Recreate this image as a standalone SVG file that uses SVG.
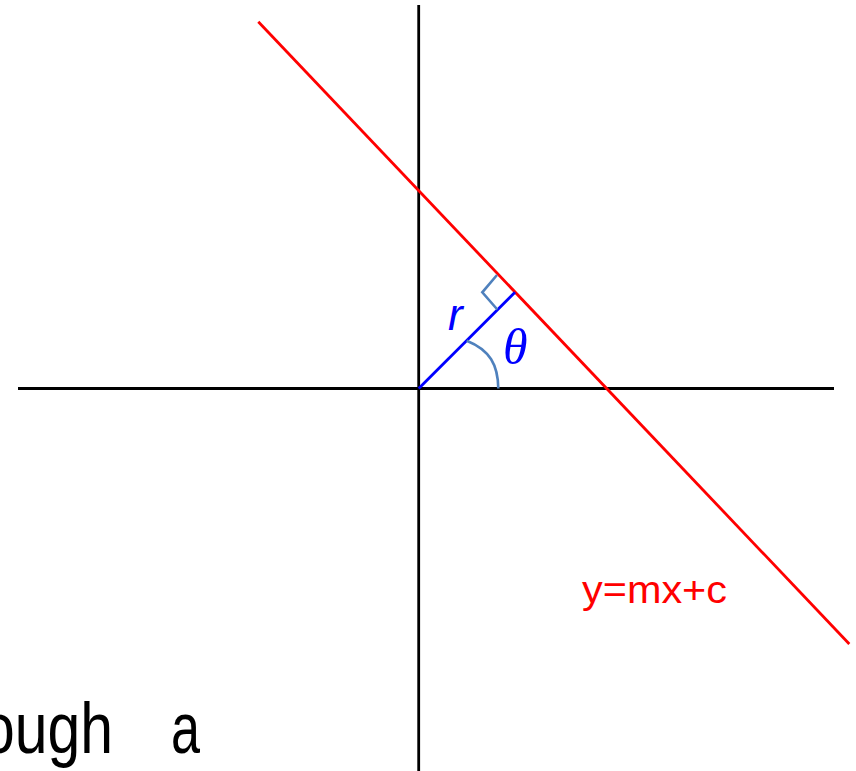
<svg xmlns="http://www.w3.org/2000/svg" width="856" height="771" viewBox="0 0 856 771">
<style>
.axis{stroke:#000;stroke-width:2.8;fill:none}
.red{stroke:#ff0000;stroke-width:2.8;fill:none}
.blue{stroke:#0000ff;stroke-width:2.8;fill:none}
.mark{stroke:#4f81bd;stroke-width:2.6;fill:none}
</style>
<rect width="856" height="771" fill="#fff"/>
<g id="axes">
<line class="axis" x1="418.7" y1="5" x2="418.7" y2="771"/>
<line class="axis" x1="18" y1="388.5" x2="834" y2="388.5"/>
</g>
<g id="line">
<line class="red" x1="258.3" y1="21.7" x2="849.3" y2="644"/>
<text x="582" y="603" font-family="Liberation Sans, Arial, sans-serif" font-size="38" fill="#ff0000" textLength="145" lengthAdjust="spacingAndGlyphs">y=mx+c</text>
</g>
<g id="normal">
<line class="blue" x1="418.7" y1="388.5" x2="515" y2="292.3"/>
<polyline class="mark" points="497,275 482.3,292.3 497.3,309.5"/>
<path class="mark" d="M466.7,340.7 C490,350 498,365 498.3,388.5"/>
<text x="448" y="330" font-family="Liberation Sans, Arial, sans-serif" font-style="italic" font-size="44" fill="#0000ff">r</text>
<text x="503" y="364" font-family="Liberation Serif, Times New Roman, serif" font-style="italic" font-size="50" fill="#0000ff">θ</text>
</g>
<text y="753" font-family="Liberation Sans, Arial, sans-serif" font-size="72" fill="#000"><tspan x="-18" textLength="131" lengthAdjust="spacingAndGlyphs">ough</tspan> <tspan x="171" textLength="29" lengthAdjust="spacingAndGlyphs">a</tspan></text>
</svg>
